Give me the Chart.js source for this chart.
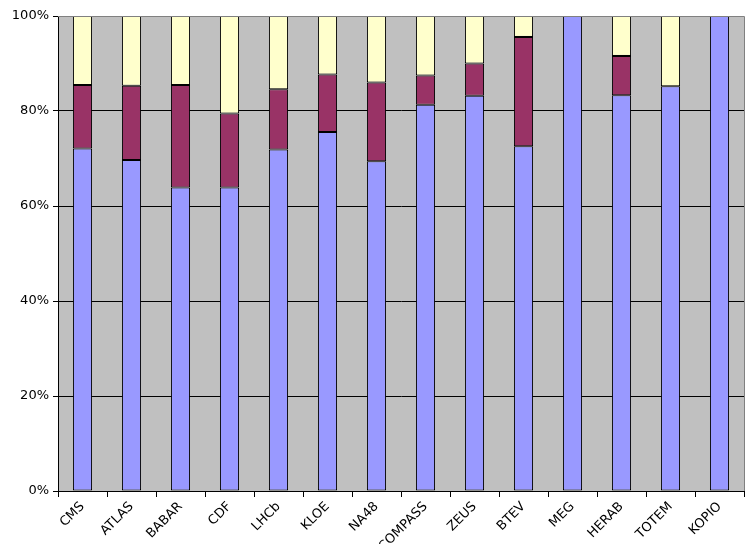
<!DOCTYPE html>
<html>
<head>
<meta charset="utf-8">
<script src="https://cdn.jsdelivr.net/npm/chart.js@4.4.1/dist/chart.umd.min.js"></script>
<style>
  html, body { margin: 0; padding: 0; background: #fff; }
  #wrap { width: 751px; height: 544px; }
</style>
</head>
<body>
<div id="wrap"><canvas id="c" width="751" height="544"></canvas></div>
<script>
const categories = ["CMS", "ATLAS", "BABAR", "CDF", "LHCb", "KLOE", "NA48", "COMPASS", "ZEUS", "BTEV", "MEG", "HERAB", "TOTEM", "KOPIO"];
const seriesA = [72.1, 69.7, 63.9, 63.9, 71.9, 75.6, 69.4, 81.3, 83.2, 72.6, 100, 83.3, 85.2, 100];
const seriesB = [13.4, 15.6, 21.6, 15.6, 12.7, 12.1, 16.6, 6.2, 6.8, 23.0, 0, 8.3, 0, 0];
const seriesC = [14.5, 14.7, 14.5, 20.5, 15.4, 12.3, 14.0, 12.5, 10.0, 4.4, 0, 8.4, 14.8, 0];
const yTicks = [0, 20, 40, 60, 80, 100];

const plotBg = {
  id: 'plotBg',
  beforeDraw(chart) {
    const {ctx, chartArea: a} = chart;
    ctx.save();
    ctx.fillStyle = '#C0C0C0';
    ctx.fillRect(a.left, a.top, a.right - a.left, a.bottom - a.top);
    ctx.restore();
  },
  afterDraw(chart) {
    const {ctx, chartArea: a} = chart;
    ctx.save();
    ctx.strokeStyle = '#808080';
    ctx.lineWidth = 1;
    ctx.beginPath();
    ctx.moveTo(a.left, a.top + 0.5);
    ctx.lineTo(a.right + 0.5, a.top + 0.5);
    ctx.lineTo(a.right + 0.5, a.bottom);
    ctx.stroke();
    ctx.restore();
  }
};

const common = { borderColor: '#000000', borderWidth: 1, borderSkipped: false, barPercentage: 0.78, categoryPercentage: 0.5 };

new Chart(document.getElementById('c'), {
  type: 'bar',
  data: {
    labels: categories,
    datasets: [
      Object.assign({ label: 'A', data: seriesA, backgroundColor: '#9999FF' }, common),
      Object.assign({ label: 'B', data: seriesB, backgroundColor: '#993366' }, common),
      Object.assign({ label: 'C', data: seriesC, backgroundColor: '#FFFFCC' }, common)
    ]
  },
  options: {
    responsive: false,
    animation: false,
    devicePixelRatio: 1,
    layout: { padding: { top: 16, right: 7, left: 0, bottom: 0 } },
    plugins: { legend: { display: false }, tooltip: { enabled: false } },
    scales: {
      x: {
        stacked: true,
        offset: true,
        grid: { offset: true, drawOnChartArea: false, drawTicks: true, tickLength: 6, color: '#000000' },
        border: { color: '#000000', width: 1 },
        ticks: { color: '#000000', font: { family: 'DejaVu Sans', size: 13 }, minRotation: 45, maxRotation: 45, autoSkip: false, padding: 2 },
        afterFit(scale) { scale.height = 53; }
      },
      y: {
        stacked: true,
        min: 0,
        max: 100,
        afterBuildTicks(scale) { scale.ticks = yTicks.map(v => ({ value: v })); },
        grid: {
          color: ctx => (ctx.tick && ctx.tick.value === 100) ? '#808080' : '#000000',
          tickColor: '#000000',
          tickLength: 5,
          lineWidth: 1
        },
        border: { color: '#000000', width: 1 },
        ticks: { color: '#000000', font: { family: 'DejaVu Sans', size: 13 }, padding: 4, callback: v => v + '%' },
        afterFit(scale) { scale.width = 58; }
      }
    }
  },
  plugins: [plotBg]
});
</script>
</body>
</html>
